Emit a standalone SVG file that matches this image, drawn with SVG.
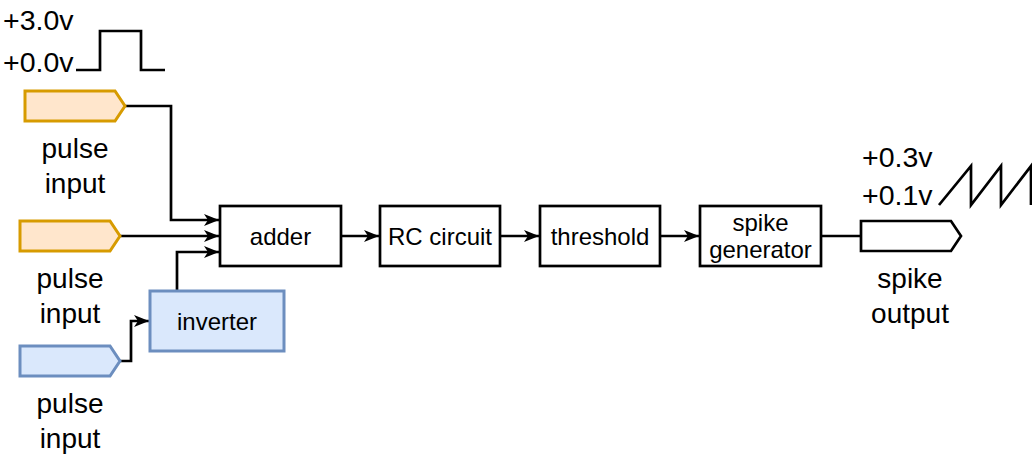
<svg xmlns="http://www.w3.org/2000/svg" width="1032" height="456" viewBox="0 0 1032 456">
<style>
text{font-family:"Liberation Sans",Arial,sans-serif;fill:#000}
.lbl{font-size:28px;text-anchor:middle}
.volt{font-size:28.5px}
.box{fill:#fff;stroke:#000;stroke-width:2.7}
.orange{fill:#ffe6cc;stroke:#d79b00;stroke-width:3}
.blue{fill:#dae8fc;stroke:#6c8ebf;stroke-width:3}
.btxt{font-size:24px;text-anchor:middle}
.wire{fill:none;stroke:#000;stroke-width:2.7}
</style>
<defs>
<marker id="arr" viewBox="0 0 15 12" refX="15" refY="6" markerWidth="15" markerHeight="12" markerUnits="userSpaceOnUse" orient="auto">
<path d="M0,0 L15,6 L0,12 L4,6 Z" fill="#000"/>
</marker>
</defs>
<g id="waveforms" class="wire">
<polyline points="76,70 100,70 100,31 141,31 141,70 165,70"/>
<polyline points="939,205 971,166 971,205 1001,166 1001,205 1031,166 1031,205"/>
</g>
<g id="volt-labels">
<text class="volt" x="3" y="30">+3.0v</text>
<text class="volt" x="3" y="72">+0.0v</text>
<text class="volt" x="862" y="167">+0.3v</text>
<text class="volt" x="862" y="205">+0.1v</text>
</g>
<g id="connectors" class="wire">
<polyline points="125,106 171,106 171,220 219,220" marker-end="url(#arr)"/>
<polyline points="120,236 219,236" marker-end="url(#arr)"/>
<polyline points="177,291 177,252 219,252" marker-end="url(#arr)"/>
<polyline points="120,361 131,361 131,321 149,321" marker-end="url(#arr)"/>
<polyline points="341,236 379,236" marker-end="url(#arr)"/>
<polyline points="500,236 539,236" marker-end="url(#arr)"/>
<polyline points="660,236 699,236" marker-end="url(#arr)"/>
<polyline points="821,236 861,236"/>
</g>
<g id="pulse-input-1">
<path class="orange" d="M25,91 H115 L125,106 L115,121 H25 Z"/>
<text class="lbl" x="75" y="158">pulse</text>
<text class="lbl" x="75" y="193">input</text>
</g>
<g id="pulse-input-2">
<path class="orange" d="M20,221 H110 L120,236 L110,251 H20 Z"/>
<text class="lbl" x="70" y="288">pulse</text>
<text class="lbl" x="70" y="323">input</text>
</g>
<g id="pulse-input-3">
<path class="blue" d="M20,346 H110 L120,361 L110,376 H20 Z"/>
<text class="lbl" x="70" y="413">pulse</text>
<text class="lbl" x="70" y="448">input</text>
</g>
<g id="inverter">
<rect class="blue" x="150" y="291" width="134" height="60"/>
<text class="btxt" x="217" y="330">inverter</text>
</g>
<g id="adder">
<rect class="box" x="220" y="206" width="121" height="60"/>
<text class="btxt" x="280.5" y="245">adder</text>
</g>
<g id="rc-circuit">
<rect class="box" x="380" y="206" width="120" height="60"/>
<text class="btxt" x="440" y="245">RC circuit</text>
</g>
<g id="threshold">
<rect class="box" x="540" y="206" width="120" height="60"/>
<text class="btxt" x="600" y="245">threshold</text>
</g>
<g id="spike-generator">
<rect class="box" x="700" y="206" width="121" height="60"/>
<text class="btxt" x="760.5" y="231">spike</text>
<text class="btxt" x="760.5" y="258">generator</text>
</g>
<g id="spike-output">
<path class="box" d="M861,221 H951 L961,236 L951,251 H861 Z"/>
<text class="lbl" x="910" y="288">spike</text>
<text class="lbl" x="910" y="323">output</text>
</g>
</svg>
